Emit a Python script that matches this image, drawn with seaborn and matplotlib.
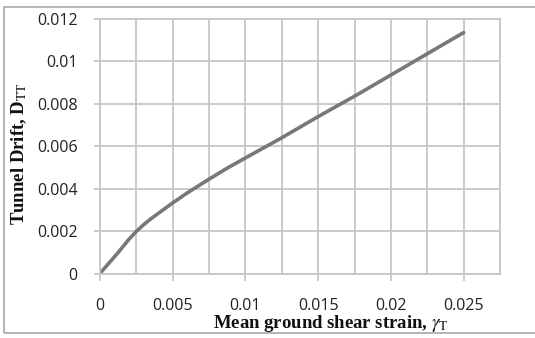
import matplotlib
matplotlib.use("Agg")
import matplotlib.pyplot as plt
from matplotlib.patches import Rectangle
import seaborn as sns
import pandas as pd
import numpy as np

# Mean ground shear strain vs. tunnel drift
shear_strain = [0, 0.0005, 0.00125, 0.002, 0.0025, 0.003, 0.0035, 0.004, 0.005,
                0.006, 0.0075, 0.00875, 0.01, 0.0125, 0.015, 0.0175, 0.02, 0.0225, 0.025]
tunnel_drift = [0, 0.0004, 0.00099, 0.00162, 0.00199, 0.0023, 0.00258, 0.00283, 0.00333,
                0.0038, 0.00445, 0.00497, 0.00545, 0.0064, 0.0074, 0.00836, 0.00936, 0.01036, 0.01136]

x_ticks = [0, 0.005, 0.01, 0.015, 0.02, 0.025]
x_tick_labels = ["0", "0.005", "0.01", "0.015", "0.02", "0.025"]
y_ticks = [0, 0.002, 0.004, 0.006, 0.008, 0.01, 0.012]
y_tick_labels = ["0", "0.002", "0.004", "0.006", "0.008", "0.01", "0.012"]

df = pd.DataFrame({"strain": shear_strain, "drift": tunnel_drift})

sns.set_theme(style="white")
plt.rcParams["font.family"] = ["Open Sans", "DejaVu Sans"]
plt.rcParams["mathtext.fontset"] = "stix"

grid_c = "#c6c6c6"
fig = plt.figure(figsize=(5.35, 3.38), dpi=100)
ax = fig.add_axes([100 / 535, 1 - 273.5 / 338, 400 / 535, 254.5 / 338])

# outer chart frame
fig.patches.append(Rectangle((4 / 535, 5 / 338), 540 / 535, 326 / 338,
                             transform=fig.transFigure, fill=False,
                             edgecolor="#a8a8a8", linewidth=1.2))

sns.lineplot(data=df, x="strain", y="drift", ax=ax, color="#787878",
             linewidth=2.6, solid_capstyle="round", solid_joinstyle="round")

ax.set_xlim(0, 0.0275)
ax.set_ylim(0, 0.012)
ax.set_xticks(np.arange(0, 0.02751, 0.0025), minor=True)
ax.set_xticks(x_ticks)
ax.set_xticklabels(x_tick_labels)
ax.set_yticks(y_ticks)
ax.set_yticklabels(y_tick_labels)

ax.grid(True, which="both", axis="x", color=grid_c, linewidth=1.3)
ax.grid(True, which="major", axis="y", color=grid_c, linewidth=1.3)
for s in ax.spines.values():
    s.set_color(grid_c)
    s.set_linewidth(1.3)

ax.tick_params(axis="x", which="major", length=5, width=1.3, color=grid_c,
               pad=12.5, labelsize=11.5, labelcolor="#222222", bottom=True)
ax.tick_params(axis="x", which="minor", length=0)
ax.tick_params(axis="y", length=4, width=1.3, color=grid_c, pad=12,
               labelsize=11.5, labelcolor="#222222", left=True)

label_font = dict(family=["Liberation Serif"], fontweight="bold", fontsize=13.5, color="#111111")
ax.set_xlabel(r"Mean ground shear strain, $\gamma_{\mathrm{T}}$", **label_font)
ax.xaxis.label.set_va("center")
ax.xaxis.set_label_coords(0.578, -0.195)
ax.set_ylabel(r"Tunnel Drift, D$_{\mathrm{TT}}$", **label_font)
ax.yaxis.label.set_va("center")
ax.yaxis.set_label_coords(-0.203, 0.47)

fig.savefig("out.png", dpi=100)
